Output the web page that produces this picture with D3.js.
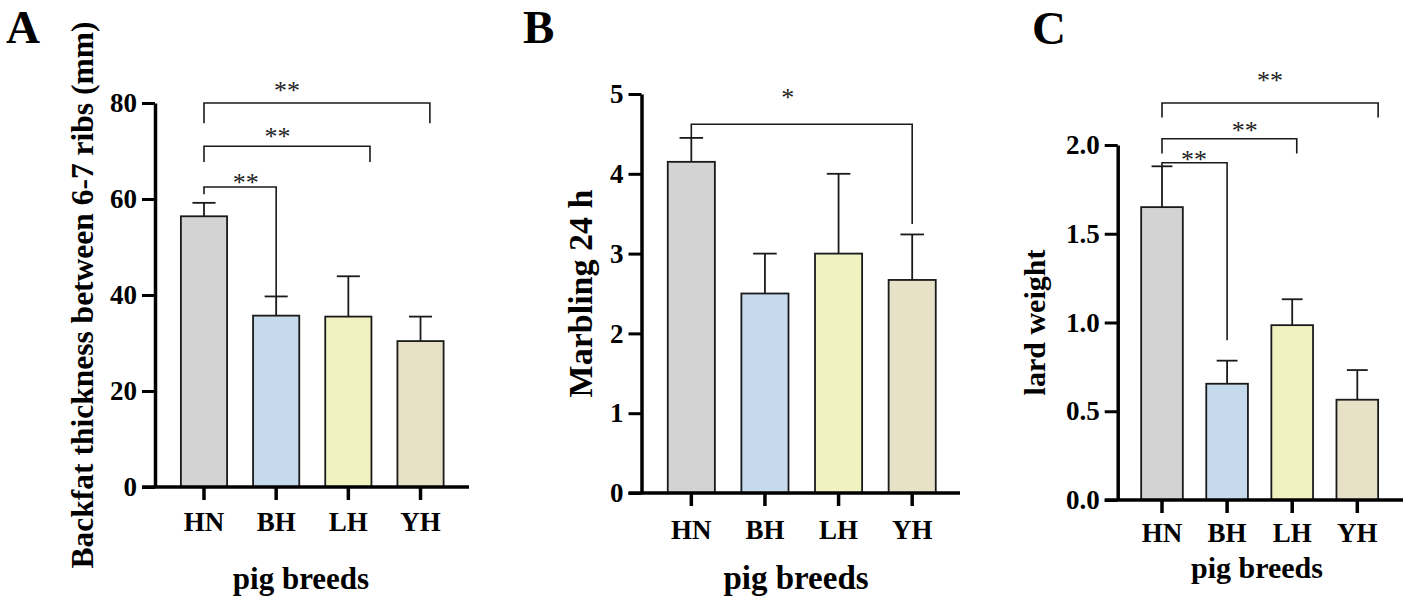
<!DOCTYPE html>
<html>
<head>
<meta charset="utf-8">
<script src="https://cdn.jsdelivr.net/npm/d3@7"></script>
<style>
  html, body { margin: 0; padding: 0; background: #fff; }
  svg { display: block; }
</style>
</head>
<body>
<div id="container"></div>
<script>
/* DATA */
const breeds = ["HN", "BH", "LH", "YH"];

// A: backfat thickness between 6-7 ribs (mm)
const backfatMean = [56.4, 35.7, 35.5, 30.4];
const backfatSD = [2.8, 4.0, 8.4, 5.1];
const backfatTicks = [0, 20, 40, 60, 80];

// B: marbling 24 h
const marblingMean = [4.15, 2.5, 3.0, 2.67];
const marblingSD = [0.3, 0.5, 1.0, 0.57];
const marblingTicks = [0, 1, 2, 3, 4, 5];

// C: lard weight
const lardMean = [1.65, 0.655, 0.985, 0.565];
const lardSD = [0.23, 0.13, 0.146, 0.167];
const lardTicks = [0, 0.5, 1.0, 1.5, 2.0];

// significance brackets: category position (from/to/star), heights in data units
const backfatSig = [
  { from: 0, to: 3.13, level: 80.0, dropL: 75.8, dropR: 75.8, starAt: 1.15, starY: 83.0, label: "**" },
  { from: 0, to: 2.30, level: 71.0, dropL: 67.7, dropR: 67.7, starAt: 1.02, starY: 73.3, label: "**" },
  { from: 0, to: 1.00, level: 62.5, dropL: 61.0, dropR: 39.7, starAt: 0.58, starY: 63.7, label: "**" }
];
const marblingSig = [
  { from: 0, to: 3.00, level: 4.62, dropL: 4.45, dropR: 3.37, starAt: 1.31, starY: 4.98, label: "*" }
];
const lardSig = [
  { from: 0, to: 3.32, level: 2.237, dropL: 2.155, dropR: 2.155, starAt: 1.66, starY: 2.37, label: "**" },
  { from: 0, to: 2.07, level: 2.035, dropL: 1.952, dropR: 1.952, starAt: 1.27, starY: 2.09, label: "**" },
  { from: 0, to: 1.00, level: 1.90, dropL: 1.88, dropR: 0.90, starAt: 0.49, starY: 1.93, label: "**" }
];

/* STYLE */
const FONT = "'Liberation Serif', 'Times New Roman', Times, serif";
const STAR_SIZE = 26;
const color = d3.scaleOrdinal()
  .domain(breeds)
  .range(["#d3d3d3", "#c6daee", "#f0f3c0", "#e7e1c7"]);

const svg = d3.select("#container").append("svg")
  .attr("width", 1409)
  .attr("height", 604);

/* PANELS LAYOUT */
const panels = [
  {
    letter: "A", letterX: 6, letterY: 43,
    axisX: 155, zeroY: 487, topY: 103, xRange: [167.9, 456.6], xEnd: 469,
    ticks: backfatTicks, fmt: d3.format("d"), max: 80,
    means: backfatMean, sds: backfatSD, sig: backfatSig,
    yLabel: "Backfat thickness between 6-7 ribs (mm)", yLabelX: 93, yLabelSize: 31.5,
    xLabelY: 531, title: "pig breeds", titleX: 301, titleY: 589, titleSize: 31
  },
  {
    letter: "B", letterX: 523, letterY: 43,
    axisX: 641.5, zeroY: 493, topY: 94, xRange: [654.5, 949], xEnd: 960,
    ticks: marblingTicks, fmt: d3.format("d"), max: 5,
    means: marblingMean, sds: marblingSD, sig: marblingSig,
    yLabel: "Marbling 24 h", yLabelX: 592, yLabelSize: 34,
    xLabelY: 539, title: "pig breeds", titleX: 796, titleY: 589, titleSize: 33
  },
  {
    letter: "C", letterX: 1032, letterY: 44,
    axisX: 1117.7, zeroY: 500, topY: 145, xRange: [1129.45, 1389.85], xEnd: 1403,
    ticks: lardTicks, fmt: d3.format(".1f"), max: 2,
    means: lardMean, sds: lardSD, sig: lardSig,
    yLabel: "lard weight", yLabelX: 1045, yLabelSize: 30,
    xLabelY: 542, title: "pig breeds", titleX: 1257, titleY: 578, titleSize: 30
  }
];

panels.forEach(drawPanel);

function drawPanel(p) {
  const g = svg.append("g");

  const y = d3.scaleLinear().domain([0, p.max]).range([p.zeroY, p.topY]);
  const x = d3.scaleBand().domain(breeds).range(p.xRange)
    .paddingInner(0.36).paddingOuter(0.18);
  const bw = x.bandwidth();
  // position in category units -> pixel (0 = centre of first category)
  const pos = d3.scaleLinear()
    .domain([0, 1])
    .range([x(breeds[0]) + bw / 2, x(breeds[0]) + bw / 2 + x.step()]);

  // BARS
  g.selectAll("rect.bar")
    .data(breeds)
    .join("rect")
    .attr("class", "bar")
    .attr("x", d => x(d))
    .attr("width", bw)
    .attr("y", (d, i) => y(p.means[i]))
    .attr("height", (d, i) => y(0) - y(p.means[i]))
    .attr("fill", d => color(d))
    .attr("stroke", "#1a1a1a")
    .attr("stroke-width", 1.8);

  // ERROR BARS (upper only)
  const err = g.selectAll("g.err")
    .data(breeds)
    .join("g")
    .attr("class", "err")
    .attr("stroke", "#1a1a1a")
    .attr("stroke-width", 1.8);
  err.append("line")
    .attr("x1", d => x(d) + bw / 2)
    .attr("x2", d => x(d) + bw / 2)
    .attr("y1", (d, i) => y(p.means[i]))
    .attr("y2", (d, i) => y(p.means[i] + p.sds[i]));
  err.append("line")
    .attr("x1", d => x(d) + bw / 4)
    .attr("x2", d => x(d) + bw * 3 / 4)
    .attr("y1", (d, i) => y(p.means[i] + p.sds[i]))
    .attr("y2", (d, i) => y(p.means[i] + p.sds[i]));

  // SIGNIFICANCE BRACKETS
  g.selectAll("path.sig")
    .data(p.sig)
    .join("path")
    .attr("class", "sig")
    .attr("fill", "none")
    .attr("stroke", "#1a1a1a")
    .attr("stroke-width", 1.6)
    .attr("d", d => `M${pos(d.from)},${y(d.dropL)}V${y(d.level)}H${pos(d.to)}V${y(d.dropR)}`);

  g.selectAll("text.star")
    .data(p.sig)
    .join("text")
    .attr("class", "star")
    .attr("x", d => pos(d.starAt))
    .attr("y", d => y(d.starY) + STAR_SIZE * 0.39)
    .attr("text-anchor", "middle")
    .attr("font-family", FONT)
    .attr("font-size", STAR_SIZE)
    .attr("fill", "#222")
    .text(d => d.label);

  // Y AXIS
  const yAxis = g.append("g")
    .attr("transform", `translate(${p.axisX},0)`)
    .call(d3.axisLeft(y).tickValues(p.ticks).tickFormat(p.fmt)
      .tickSize(13).tickSizeOuter(0).tickPadding(5));
  yAxis.select(".domain").attr("stroke", "#000").attr("stroke-width", 3.5);
  yAxis.selectAll(".tick line").attr("stroke", "#000").attr("stroke-width", 3);
  yAxis.selectAll(".tick text")
    .attr("font-family", FONT)
    .attr("font-size", 27)
    .attr("font-weight", "bold")
    .attr("fill", "#000");

  // X AXIS
  const xAxis = g.append("g")
    .attr("transform", `translate(0,${p.zeroY})`)
    .call(d3.axisBottom(x).tickSize(13).tickSizeOuter(0));
  xAxis.select(".domain").remove();
  xAxis.append("line")
    .attr("x1", p.axisX - 13)
    .attr("x2", p.xEnd)
    .attr("stroke", "#000")
    .attr("stroke-width", 3.5);
  xAxis.selectAll(".tick line").attr("stroke", "#000").attr("stroke-width", 3.5);
  xAxis.selectAll(".tick text")
    .attr("dy", null)
    .attr("y", p.xLabelY - p.zeroY)
    .attr("font-family", FONT)
    .attr("font-size", 27)
    .attr("font-weight", "bold")
    .attr("fill", "#000");

  // AXIS TITLES
  g.append("text")
    .attr("transform", `translate(${p.yLabelX},${(p.zeroY + p.topY) / 2}) rotate(-90)`)
    .attr("text-anchor", "middle")
    .attr("font-family", FONT)
    .attr("font-size", p.yLabelSize)
    .attr("font-weight", "bold")
    .text(p.yLabel);

  g.append("text")
    .attr("x", p.titleX)
    .attr("y", p.titleY)
    .attr("text-anchor", "middle")
    .attr("font-family", FONT)
    .attr("font-size", p.titleSize)
    .attr("font-weight", "bold")
    .text(p.title);

  // PANEL LETTER
  g.append("text")
    .attr("x", p.letterX)
    .attr("y", p.letterY)
    .attr("font-family", FONT)
    .attr("font-size", 47)
    .attr("font-weight", "bold")
    .text(p.letter);
}
</script>
</body>
</html>
